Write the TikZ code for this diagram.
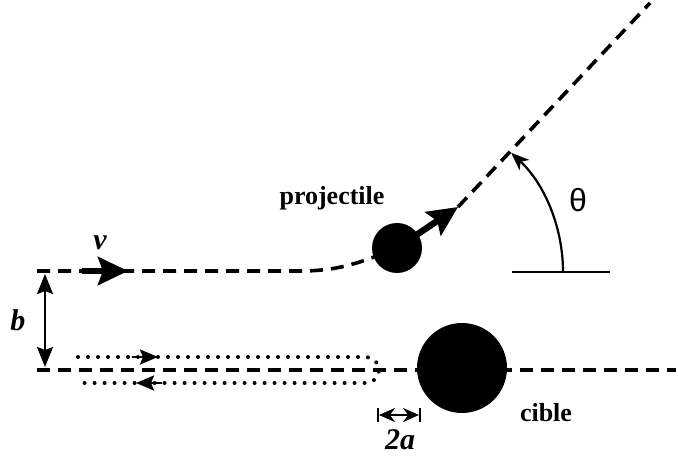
\documentclass[tikz,border=0pt]{standalone}
\usepackage{fontspec}
\setmainfont{Liberation Serif}
\newfontfamily\thetafont{Liberation Sans}
\usetikzlibrary{arrows.meta}

\tikzset{
  traject/.style={line width=1.8pt, dash pattern=on 6.5pt off 4pt},
  dots/.style={line width=2pt, line cap=round, dash pattern=on 0pt off 5pt},
  bigarrow/.style={line width=3.2pt, -{Stealth[length=15pt,width=14pt,inset=2.5pt]}},
  thinarrow/.style={line width=1.1pt},
  ball/.style={circle, fill=black, inner sep=0pt},
  lbl/.style={font=\fontsize{13}{15}\selectfont\bfseries},
  sym/.style={font=\fontsize{15}{17}\selectfont\bfseries\itshape},
}

\begin{document}
\begin{tikzpicture}[x=0.5pt, y=-0.5pt]
    \useasboundingbox (0,0) rectangle (678,458);

    % Reference points
    \coordinate (inA) at (37,271);
    \coordinate (inB) at (300,271);
    \coordinate (proj) at (397,248);
    \coordinate (outA) at (458,207);
    \coordinate (outB) at (650,3);
    \coordinate (axisL) at (37,370);
    \coordinate (axisR) at (676,370);
    \coordinate (tgt) at (462,368);

    % Trajectories
    \draw[traject] (inA) -- (inB) .. controls (340,271) and (362,262) .. (proj);
    \draw[traject] (outA) -- (outB);
    \draw[traject] (axisL) -- (axisR);

    % Reflected path near the axis
    \draw[dots] (78,357) -- (366,357) arc[start angle=-90, end angle=90, radius=13] -- (78,383);
    \draw[thinarrow, -{Stealth[length=9pt,width=7.5pt,inset=1.5pt]}] (132,357) -- (158,357);
    \draw[thinarrow, -{Stealth[length=9pt,width=7.5pt,inset=1.5pt]}] (162,383) -- (136,383);

    % Projectile and target
    \node[ball, minimum size=25pt] (projball) at (proj) {};
    \node[ball, minimum size=45pt] (cibleball) at (tgt) {};
    \draw[bigarrow] (proj) -- (outA);
    \node[lbl] (projlabel) at (332,198) {projectile};
    \node[lbl] (ciblelabel) at (546,413) {cible};

    % Incoming velocity
    \draw[bigarrow] (82,271) -- (128,271);
    \node[sym] (vlabel) at (100,243) {v};

    % Impact parameter b
    \draw[thinarrow, {Stealth[length=10pt,width=8pt,inset=1.5pt]}-{Stealth[length=10pt,width=8pt,inset=1.5pt]}] (45,274) -- (45,367);
    \node[sym] (blabel) at (18,320) {b};

    % Size 2a
    \draw[thinarrow] (378,408) -- (378,422);
    \draw[thinarrow] (420,408) -- (420,422);
    \draw[thinarrow, {Stealth[length=8pt,width=7pt]}-{Stealth[length=8pt,width=7pt]}] (379,415) -- (419,415);
    \node[sym] (alabel) at (400,440) {2a};

    % Deflection angle
    \draw[thinarrow] (512,272) -- (610,272);
    \draw[thinarrow, -{Stealth[length=9pt,width=7pt,inset=2.5pt]}] (563,272) arc[start angle=0, end angle=-47, radius=163];
    \node[font=\thetafont\fontsize{16}{18}\selectfont] (thetalabel) at (578,200) {θ};
\end{tikzpicture}
\end{document}
